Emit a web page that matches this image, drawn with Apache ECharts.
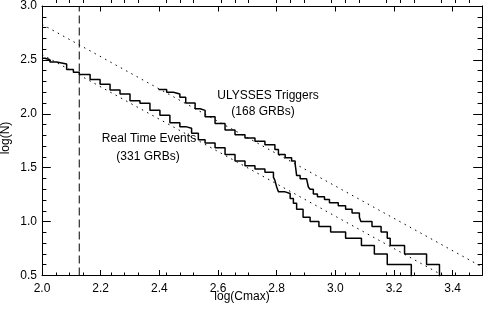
<!DOCTYPE html>
<html>
<head>
<meta charset="utf-8">
<script src="https://cdn.jsdelivr.net/npm/echarts@6/dist/echarts.min.js"></script>
<style>
html,body{margin:0;padding:0;background:#fff;}
#c{width:483px;height:310px;}
</style>
</head>
<body>
<div id="c"></div>
<script>
// log(Cmax), log(N) pairs (step drops)
var ulyssesTriggers = [
  [2.397, 2.225], [2.425, 2.199], [2.448, 2.183], [2.470, 2.153], [2.490, 2.100],
  [2.522, 2.047], [2.539, 2.032], [2.556, 1.972], [2.590, 1.911], [2.624, 1.850],
  [2.658, 1.805], [2.692, 1.775], [2.726, 1.745], [2.760, 1.714], [2.794, 1.669],
  [2.806, 1.623], [2.829, 1.593], [2.851, 1.563], [2.863, 1.533], [2.866, 1.473],
  [2.868, 1.427], [2.880, 1.397], [2.902, 1.382], [2.908, 1.321], [2.914, 1.301],
  [2.925, 1.255], [2.939, 1.230], [2.963, 1.204], [2.980, 1.176], [3.010, 1.146],
  [3.035, 1.114], [3.057, 1.079], [3.082, 1.041], [3.087, 1.000], [3.125, 0.954],
  [3.156, 0.903], [3.177, 0.845], [3.187, 0.778], [3.236, 0.699], [3.311, 0.602],
  [3.355, 0.477]
];
var realTimeEvents = [
  [2.000, 2.515], [2.010, 2.501], [2.027, 2.480], [2.050, 2.462], [2.084, 2.410],
  [2.107, 2.386], [2.127, 2.365], [2.164, 2.319], [2.198, 2.274], [2.232, 2.220],
  [2.266, 2.183], [2.300, 2.122], [2.334, 2.099], [2.368, 2.032], [2.402, 1.986],
  [2.436, 1.917], [2.470, 1.881], [2.490, 1.866], [2.510, 1.820], [2.533, 1.760],
  [2.556, 1.730], [2.590, 1.684], [2.624, 1.623], [2.658, 1.563], [2.692, 1.518],
  [2.726, 1.487], [2.760, 1.457], [2.789, 1.412], [2.794, 1.382], [2.800, 1.321],
  [2.806, 1.276], [2.829, 1.260], [2.846, 1.215], [2.857, 1.170], [2.868, 1.114],
  [2.890, 1.041], [2.914, 1.000], [2.944, 0.954], [2.984, 0.903], [3.035, 0.845],
  [3.089, 0.778], [3.133, 0.699], [3.177, 0.602], [3.259, 0.477]
];
// -3/2 power-law reference lines
var ulyssesFit = [[2.0, 2.83], [3.5, 0.58]];
var realTimeFit = [[2.0, 2.55], [3.5, 0.30]];
// threshold marker
var thresholdX = 2.127;
var thresholdLine = [[thresholdX, 0.5], [thresholdX, 3.0]];
// axis settings
var xMin = 2.0, xMax = 3.5, xMajor = 0.2;
var yMin = 0.5, yMax = 3.0, yMajor = 0.5;

var FONT = '"Liberation Sans", Arial, Helvetica, sans-serif';
var chart = echarts.init(document.getElementById('c'), null, {renderer: 'canvas'});

var L = 42, R = 1, T = 0, B = 34.5;
var plotW = 483 - L - R;
var extra = plotW / (xMax - xMin) * 0.1; // minor-tick grid runs 0.1 beyond the right edge

function xMajorAx(pos, labels) {
  return {
    type: 'value', position: pos, min: xMin, max: xMax, gridIndex: 0, interval: xMajor,
    axisLine: {show: true, onZero: false, lineStyle: {color: '#000', width: 1}},
    axisTick: {show: true, inside: true, length: 5.5, lineStyle: {color: '#000', width: 1}},
    axisLabel: {show: labels, margin: 7, color: '#000', fontFamily: FONT, fontSize: 12,
      showMaxLabel: false, formatter: function (v) { return v.toFixed(1); }},
    splitLine: {show: false}
  };
}
function xMinorAx(pos) {
  return {
    type: 'value', position: pos, min: xMin, max: xMax + 0.1, gridIndex: 1, interval: xMajor,
    axisLine: {show: false, onZero: false},
    axisTick: {show: false, inside: true},
    minorTick: {show: true, splitNumber: 4, length: 3, lineStyle: {color: '#000', width: 1}},
    axisLabel: {show: false},
    splitLine: {show: false}
  };
}
function yAx(pos, labels, gi, showAll) {
  return {
    type: 'value', position: pos, min: yMin, max: yMax, interval: yMajor, gridIndex: gi,
    show: showAll,
    axisLine: {show: true, onZero: false, lineStyle: {color: '#000', width: 1}},
    axisTick: {show: true, inside: true, length: 8.8, lineStyle: {color: '#000', width: 1}},
    minorTick: {show: true, splitNumber: 5, length: 4.4, lineStyle: {color: '#000', width: 1}},
    axisLabel: {show: labels, margin: 5, color: '#000', fontFamily: FONT, fontSize: 12,
      formatter: function (v) { return v.toFixed(1); }},
    splitLine: {show: false}
  };
}

var TXT = function (t, x, y, rot) {
  return {type: 'text', x: x, y: y, rotation: rot || 0, z: 10,
    style: {text: t, font: '12px ' + FONT, fill: '#000', textAlign: 'center', textVerticalAlign: 'middle'}};
};

var option = {
  animation: false,
  backgroundColor: '#fff',
  grid: [
    {left: L, right: R, top: T, bottom: B, containLabel: false},
    {left: L, right: R - extra, top: T, bottom: B, containLabel: false}
  ],
  xAxis: [xMajorAx('bottom', true), xMajorAx('top', false), xMinorAx('bottom'), xMinorAx('top')],
  yAxis: [yAx('left', true, 0, true), yAx('right', false, 0, true), yAx('left', false, 1, false)],
  series: [
    {type: 'line', data: realTimeEvents, step: 'end', showSymbol: false, clip: true,
      lineStyle: {color: '#000', width: 1.5}},
    {type: 'line', data: ulyssesTriggers, step: 'end', showSymbol: false, clip: true,
      lineStyle: {color: '#000', width: 1.5}},
    {type: 'line', data: ulyssesFit, showSymbol: false, clip: true,
      lineStyle: {color: '#000', width: 1, type: [1.5, 4.5]}},
    {type: 'line', data: realTimeFit, showSymbol: false, clip: true,
      lineStyle: {color: '#000', width: 1, type: [1.5, 4.5]}},
    {type: 'line', data: thresholdLine, showSymbol: false, clip: true,
      lineStyle: {color: '#000', width: 1, type: [8, 4]}}
  ],
  graphic: [
    TXT('ULYSSES Triggers', 268, 96),
    TXT('(168 GRBs)', 263, 112),
    TXT('Real Time Events', 149, 139),
    TXT('(331 GRBs)', 148, 157),
    TXT('log(Cmax)', 242, 297),
    TXT('log(N)', 6, 138, Math.PI / 2)
  ]
};
chart.setOption(option);
</script>
</body>
</html>
